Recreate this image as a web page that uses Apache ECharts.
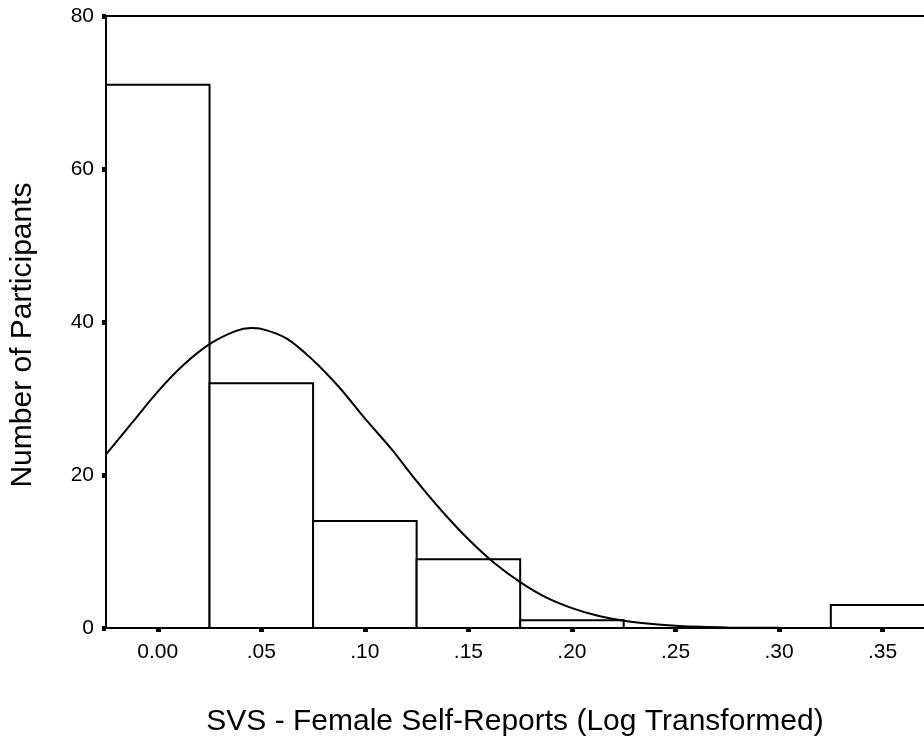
<!DOCTYPE html>
<html>
<head>
<meta charset="utf-8">
<script src="https://cdn.jsdelivr.net/npm/echarts@6/dist/echarts.min.js"></script>
<style>html,body{margin:0;padding:0;background:#fff}#c{width:924px;height:742px}</style>
</head>
<body>
<div id="c"></div>
<script>
// Histogram bins (centre of each bin) and counts
var binCenters = [0.00, 0.05, 0.10, 0.15, 0.20, 0.25, 0.30, 0.35];
var binCounts  = [71, 32, 14, 9, 1, 0, 0, 3];
var binWidth = 0.05;

// Fitted normal curve
var curveX = [-0.025, -0.0125, 0.0, 0.0125, 0.025, 0.0375, 0.045, 0.05, 0.0625, 0.075, 0.0875, 0.10, 0.1125, 0.125, 0.1375, 0.15, 0.1625, 0.175, 0.1875, 0.20, 0.2125, 0.225, 0.2375, 0.25, 0.2625, 0.275, 0.30, 0.325, 0.35, 0.37];
var curveY = [22.7, 26.8, 30.9, 34.4, 37.1, 38.8, 39.2, 39.1, 37.8, 35.0, 31.5, 27.4, 23.5, 19.2, 15.2, 11.6, 8.5, 6.0, 4.0, 2.6, 1.6, 0.95, 0.55, 0.3, 0.15, 0.08, 0.02, 0.0, 0.0, 0.0];

// Axis ticks and labels
var xTickValues = [0.00, 0.05, 0.10, 0.15, 0.20, 0.25, 0.30, 0.35];
var xTickLabels = ["0.00", ".05", ".10", ".15", ".20", ".25", ".30", ".35"];
var yTicks = [0, 20, 40, 60, 80];

var xTitle = "SVS - Female Self-Reports (Log Transformed)";
var yTitle = "Number of Participants";

var chart = echarts.init(document.getElementById('c'), null, {renderer: 'canvas'});
var FONT = '"Liberation Sans", Arial, Helvetica, sans-serif';

var barData = binCenters.map(function (c, i) { return [c, binCounts[i]]; });
var lineData = curveX.map(function (x, i) { return [x, curveY[i]]; });

chart.setOption({
  animation: false,
  backgroundColor: '#ffffff',
  grid: {left: 105, top: 16, bottom: 113, right: 0, containLabel: false},
  xAxis: [{
    type: 'value',
    min: -0.025,
    max: 0.37,
    position: 'bottom',
    name: xTitle,
    nameLocation: 'middle',
    nameGap: 79,
    nameTextStyle: {fontFamily: FONT, fontSize: 30, color: '#000'},
    axisLine: {show: true, onZero: false, lineStyle: {color: '#000', width: 2}},
    axisTick: {show: true, inside: false, length: 4, lineStyle: {color: '#000', width: 5}, customValues: xTickValues},
    axisLabel: {
      show: true, margin: 14, fontFamily: FONT, fontSize: 21, color: '#000',
      customValues: xTickValues,
      formatter: function (v) {
        for (var i = 0; i < xTickValues.length; i++) {
          if (Math.abs(xTickValues[i] - v) < 1e-9) return xTickLabels[i];
        }
        return '';
      }
    },
    splitLine: {show: false}
  }, {
    type: 'value',
    min: -0.025,
    max: 0.37,
    position: 'top',
    axisLine: {show: true, onZero: false, lineStyle: {color: '#000', width: 2}},
    axisTick: {show: false},
    axisLabel: {show: false},
    splitLine: {show: false}
  }],
  yAxis: {
    type: 'value',
    min: 0,
    max: 80,
    interval: 20,
    name: yTitle,
    nameLocation: 'middle',
    nameGap: 68,
    nameRotate: 90,
    nameTextStyle: {fontFamily: FONT, fontSize: 30, color: '#000', padding: [0, 26, 0, 0]},
    axisLine: {show: true, onZero: false, lineStyle: {color: '#000', width: 2}},
    axisTick: {show: true, inside: false, length: 4, lineStyle: {color: '#000', width: 5}},
    axisLabel: {show: true, margin: 12, fontFamily: FONT, fontSize: 21, color: '#000',
      formatter: function (v) { return yTicks.indexOf(v) >= 0 ? String(v) : ''; }},
    splitLine: {show: false}
  },
  series: [{
    type: 'custom',
    xAxisIndex: 0,
    clip: false,
    renderItem: function (params, api) {
      var c = api.value(0), v = api.value(1);
      if (v <= 0) return null;
      var p0 = api.coord([c - binWidth / 2, v]);
      var p1 = api.coord([c + binWidth / 2, 0]);
      return {
        type: 'rect',
        shape: {x: p0[0], y: p0[1], width: p1[0] - p0[0], height: p1[1] - p0[1]},
        style: {fill: '#ffffff', stroke: '#000000', lineWidth: 2}
      };
    },
    encode: {x: 0, y: 1},
    data: barData,
    z: 2
  }, {
    type: 'line',
    xAxisIndex: 0,
    data: lineData,
    smooth: 0.3,
    showSymbol: false,
    symbol: 'none',
    lineStyle: {color: '#000', width: 2},
    z: 3
  }]
});
</script>
</body>
</html>
